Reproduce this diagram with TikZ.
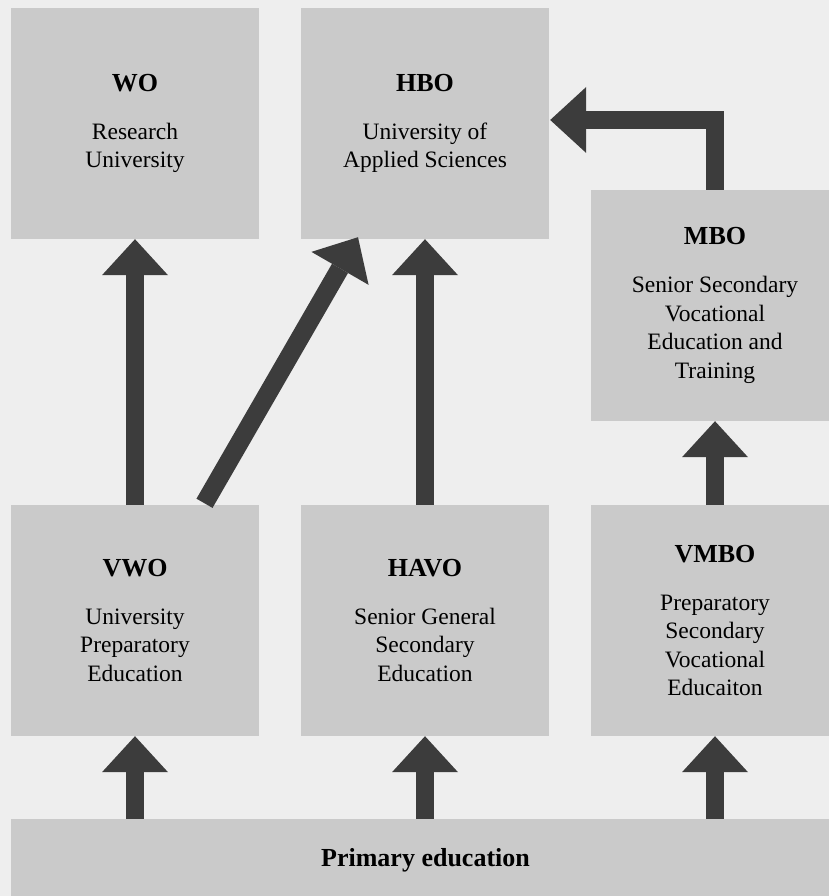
\documentclass[tikz,border=0pt]{standalone}
\usepackage{fontspec}
\setmainfont{Liberation Serif}
\usetikzlibrary{arrows.meta,calc}
\definecolor{bggray}{HTML}{EEEEEE}
\definecolor{boxgray}{HTML}{CACACA}
\definecolor{arrowgray}{HTML}{3C3C3C}
\newcommand{\ttl}[1]{{\fontsize{26}{28.5}\selectfont\bfseries #1}}
\begin{document}
\begin{tikzpicture}[x=1pt,y=1pt,
  levelbox/.style={fill=boxgray, draw=none, minimum width=248pt, minimum height=231pt,
    inner sep=0pt, align=center, font=\fontsize{23.5}{28.5}\selectfont},
  flowarrow/.style={draw=arrowgray, line width=18.5pt, line join=miter,
    -{Triangle[width=66pt,length=36pt,line width=0pt]}}]
\useasboundingbox (0,0) rectangle (829,896);
\fill[bggray] (0,0) rectangle (829,896);
\clip (0,0) rectangle (829,896);

\node[levelbox] (wo) at (135,772.5) {\ttl{WO}\\[19.5pt]Research\\University};
\node[levelbox] (hbo) at (425,772.5) {\ttl{HBO}\\[19.5pt]University of\\Applied Sciences};
\node[levelbox] (mbo) at (715,590.5) {\ttl{MBO}\\[19.5pt]Senior Secondary\\Vocational\\Education and\\Training};
\node[levelbox] (vwo) at (135,275.5) {\ttl{VWO}\\[19.5pt]University\\Preparatory\\Education};
\node[levelbox] (havo) at (425,275.5) {\ttl{HAVO}\\[19.5pt]Senior General\\Secondary\\Education};
\node[levelbox] (vmbo) at (715,275.5) {\ttl{VMBO}\\[19.5pt]Preparatory\\Secondary\\Vocational\\Educaiton};
\node[levelbox, minimum width=829pt, minimum height=82pt] (prim) at (425.5,36) {\ttl{Primary education}};

\draw[flowarrow] (prim.north -| vwo.south) -- (vwo.south);
\draw[flowarrow] (prim.north -| havo.south) -- (havo.south);
\draw[flowarrow] (prim.north -| vmbo.south) -- (vmbo.south);
\draw[flowarrow] (vwo.north) -- (wo.south);
\draw[flowarrow] (havo.north) -- (hbo.south);
\draw[flowarrow] (vmbo.north) -- (mbo.south);
\draw[flowarrow] ($(vwo.north)+(69.5,1.5)$) -- ($(hbo.south)+(-67,2)$);
\coordinate (elbowend) at ($(hbo.east)+(1,3.5)$);
\draw[flowarrow] (mbo.north) |- (elbowend);
\end{tikzpicture}
\end{document}
